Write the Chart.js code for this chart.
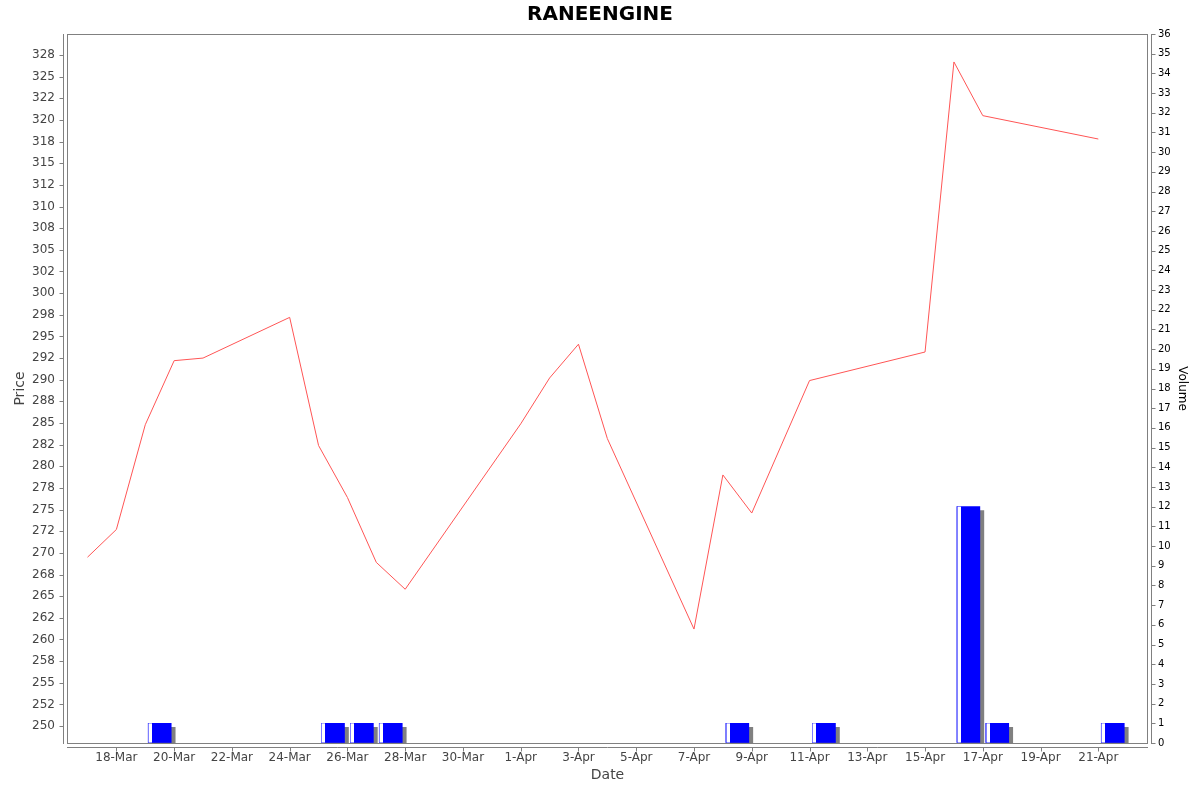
<!DOCTYPE html>
<html>
<head>
<meta charset="utf-8">
<title>RANEENGINE</title>
<script src="https://cdn.jsdelivr.net/npm/chart.js@4.4.1/dist/chart.umd.min.js"></script>
<style>
  html, body { margin: 0; padding: 0; background: #fff; }
</style>
</head>
<body>
<canvas id="priceChart" width="1200" height="792"></canvas>
<script>
// Price line (one point per trading day)
const priceDates = ['17-Mar', '18-Mar', '19-Mar', '20-Mar', '21-Mar', '24-Mar', '25-Mar', '26-Mar', '27-Mar', '28-Mar',
    '1-Apr', '2-Apr', '3-Apr', '4-Apr', '7-Apr', '8-Apr', '9-Apr', '11-Apr', '15-Apr', '16-Apr', '17-Apr', '21-Apr'];
const prices = [269.5, 272.7, 284.8, 292.2, 292.5, 297.2, 282.4, 276.4, 268.9, 265.8,
    284.9, 290.2, 294.1, 283.2, 261.2, 279.0, 274.6, 289.9, 293.2, 326.7, 320.5, 317.8];

// Volume bars
const volumeDates = ['19-Mar', '25-Mar', '26-Mar', '27-Mar', '8-Apr', '11-Apr', '16-Apr', '17-Apr', '21-Apr'];
const volumes = [1, 1, 1, 1, 1, 1, 12, 1, 1];

// Axis ticks
const dateTicks = ['18-Mar', '20-Mar', '22-Mar', '24-Mar', '26-Mar', '28-Mar', '30-Mar', '1-Apr', '3-Apr',
    '5-Apr', '7-Apr', '9-Apr', '11-Apr', '13-Apr', '15-Apr', '17-Apr', '19-Apr', '21-Apr'];
const priceTicks = [250, 252.5, 255, 257.5, 260, 262.5, 265, 267.5, 270, 272.5, 275, 277.5, 280, 282.5, 285, 287.5,
    290, 292.5, 295, 297.5, 300, 302.5, 305, 307.5, 310, 312.5, 315, 317.5, 320, 322.5, 325, 327.5];
const priceTickLabels = ['250', '252', '255', '258', '260', '262', '265', '268', '270', '272', '275', '278', '280', '282', '285', '288',
    '290', '292', '295', '298', '300', '302', '305', '308', '310', '312', '315', '318', '320', '322', '325', '328'];

// "17-Mar" -> day number counted from 1-Mar (Mar d = d, Apr d = 31 + d)
function toDay(label) {
    const [d, m] = label.split('-');
    return (m === 'Apr' ? 31 : 0) + Number(d);
}

const axisGray = '#808080';
const labelGray = '#444444';
Chart.defaults.font.family = 'DejaVu Sans';

// JFreeChart style frame: plot outline plus axis lines set 4px away from it
const framePlugin = {
    id: 'frame',
    afterDraw(chart) {
        const ctx = chart.ctx;
        const a = chart.chartArea;
        const sx = chart.scales.x, sy = chart.scales.y, sv = chart.scales.yVol;
        ctx.save();
        ctx.strokeStyle = axisGray;
        ctx.lineWidth = 1;
        ctx.strokeRect(a.left + 0.5, a.top + 0.5, a.right - a.left - 1, a.bottom - a.top);

        ctx.beginPath();
        // left axis
        const lx = a.left - 3.5;
        ctx.moveTo(lx, a.top); ctx.lineTo(lx, a.bottom + 1);
        sy.ticks.forEach(t => {
            const p = Math.round(sy.getPixelForValue(t.value)) + 0.5;
            ctx.moveTo(lx, p); ctx.lineTo(lx - 4, p);
        });
        // right axis
        const rx = a.right + 3.5;
        ctx.moveTo(rx, a.top); ctx.lineTo(rx, a.bottom + 1);
        sv.ticks.forEach(t => {
            const p = Math.round(sv.getPixelForValue(t.value)) + 0.5;
            ctx.moveTo(rx, p); ctx.lineTo(rx + 4, p);
        });
        // bottom axis
        const by = a.bottom + 4.5;
        ctx.moveTo(a.left, by); ctx.lineTo(a.right, by);
        sx.ticks.forEach(t => {
            const p = Math.round(sx.getPixelForValue(t.value)) + 0.5;
            ctx.moveTo(p, by); ctx.lineTo(p, by + 4);
        });
        ctx.stroke();
        ctx.restore();
    }
};

// gray drop shadow and white highlight stripe on the volume bars
const barLookPlugin = {
    id: 'barLook',
    beforeDatasetDraw(chart, args) {
        if (args.meta.type !== 'bar') return;
        const ctx = chart.ctx;
        ctx.save();
        ctx.shadowColor = axisGray;
        ctx.shadowOffsetX = 4;
        ctx.shadowOffsetY = 4;
        ctx.shadowBlur = 0;
    },
    afterDatasetDraw(chart, args) {
        if (args.meta.type !== 'bar') return;
        const ctx = chart.ctx;
        ctx.restore();
        ctx.save();
        args.meta.data.forEach(bar => {
            const {x, y, base, width} = bar.getProps(['x', 'y', 'base', 'width'], true);
            const left = Math.round(x - width / 2);
            ctx.fillStyle = '#7f7fff';
            ctx.fillRect(left, y, 1, base - y);
            ctx.fillStyle = '#ffffff';
            ctx.fillRect(left + 1, y, 3, base - y);
        });
        ctx.restore();
    }
};

const ctx = document.getElementById('priceChart').getContext('2d');
const priceChart = new Chart(ctx, {
    type: 'bar',
    data: {
        datasets: [{
            type: 'line',
            label: 'Price',
            data: priceDates.map((d, i) => ({x: toDay(d), y: prices[i]})),
            xAxisID: 'x',
            yAxisID: 'y',
            borderColor: '#ff5555',
            borderWidth: 1,
            pointRadius: 0,
            tension: 0,
            fill: false
        }, {
            type: 'bar',
            label: 'Volume',
            data: volumeDates.map((d, i) => ({x: toDay(d) + 0.5, y: volumes[i]})),
            xAxisID: 'x',
            yAxisID: 'yVol',
            backgroundColor: '#0000ff',
            borderWidth: 0,
            barThickness: 23
        }]
    },
    options: {
        responsive: false,
        animation: false,
        devicePixelRatio: 1,
        layout: { padding: 0 },
        plugins: {
            legend: { display: false },
            tooltip: { enabled: false },
            title: {
                display: true,
                text: 'RANEENGINE',
                color: '#000000',
                font: { size: 20, weight: 'bold' },
                padding: { top: 3, bottom: 7 }
            }
        },
        scales: {
            x: {
                type: 'linear',
                position: 'bottom',
                min: 16.29,
                max: 53.72,
                offset: false,
                afterBuildTicks: scale => {
                    scale.ticks = dateTicks.map(d => ({value: toDay(d)}));
                },
                afterFit: scale => { scale.height = 49; },
                grid: { drawOnChartArea: false, color: 'rgba(0,0,0,0)', tickLength: 8 },
                border: { display: false },
                ticks: {
                    autoSkip: false,
                    maxRotation: 0,
                    padding: 0,
                    color: labelGray,
                    font: { size: 12 },
                    callback: (value, index) => dateTicks[index]
                },
                title: {
                    display: true,
                    text: 'Date',
                    color: labelGray,
                    font: { size: 14 },
                    padding: { top: 0, bottom: 8 }
                }
            },
            y: {
                type: 'linear',
                position: 'left',
                min: 248.04,
                max: 329.93,
                afterBuildTicks: scale => {
                    scale.ticks = priceTicks.map(v => ({value: v}));
                },
                afterFit: scale => { scale.width = 67; },
                grid: { drawOnChartArea: false, color: 'rgba(0,0,0,0)', tickLength: 8 },
                border: { display: false },
                ticks: {
                    autoSkip: false,
                    padding: 4,
                    color: labelGray,
                    font: { size: 12 },
                    callback: (value, index) => priceTickLabels[index]
                },
                title: {
                    display: true,
                    text: 'Price',
                    color: labelGray,
                    font: { size: 14 },
                    padding: { top: 12, bottom: 0 }
                }
            },
            yVol: {
                type: 'linear',
                position: 'right',
                min: 0,
                max: 36,
                afterFit: scale => { scale.width = 52; },
                grid: { drawOnChartArea: false, color: 'rgba(0,0,0,0)', tickLength: 8 },
                border: { display: false },
                ticks: {
                    autoSkip: false,
                    stepSize: 1,
                    padding: 2,
                    color: '#000000',
                    font: { size: 10 }
                },
                title: {
                    display: true,
                    text: 'Volume',
                    color: '#000000',
                    font: { size: 12 },
                    padding: { top: 11, bottom: 0 }
                }
            }
        }
    },
    plugins: [framePlugin, barLookPlugin]
});
</script>
</body>
</html>
